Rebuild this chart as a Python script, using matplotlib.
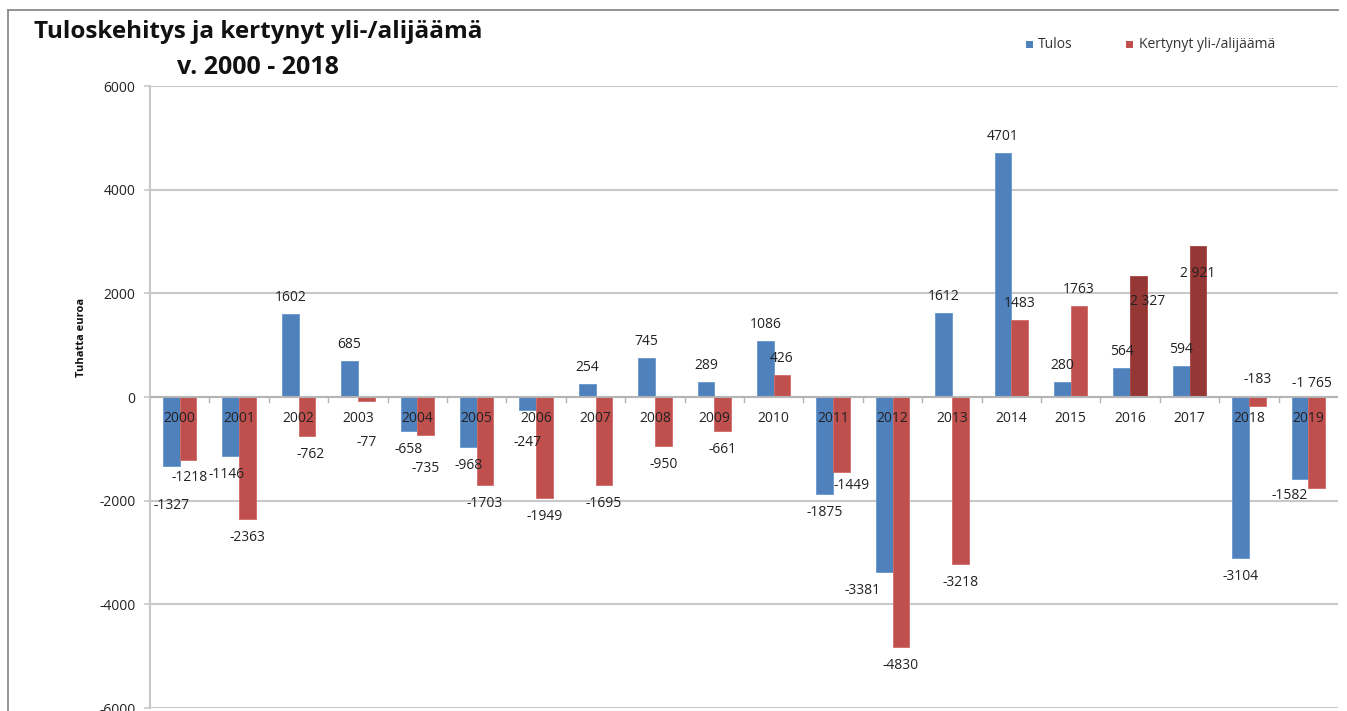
import matplotlib
matplotlib.use("Agg")
import matplotlib.pyplot as plt
from matplotlib.patches import Rectangle
from matplotlib.lines import Line2D

# ---------------- data ----------------
years = ["2000", "2001", "2002", "2003", "2004", "2005", "2006", "2007", "2008", "2009",
         "2010", "2011", "2012", "2013", "2014", "2015", "2016", "2017", "2018", "2019"]
tulos = [-1327, -1146, 1602, 685, -658, -968, -247, 254, 745, 289,
         1086, -1875, -3381, 1612, 4701, 280, 564, 594, -3104, -1582]
kertynyt = [-1218, -2363, -762, -77, -735, -1703, -1949, -1695, -950, -661,
            426, -1449, -4830, -3218, 1483, 1763, 2327, 2921, -183, -1765]
tulos_labels = [str(v) for v in tulos]
kertynyt_labels = [str(v) for v in kertynyt]
kertynyt_labels[16] = "2 327"
kertynyt_labels[17] = "2 921"
kertynyt_labels[19] = "-1 765"
yticks = [-6000, -4000, -2000, 0, 2000, 4000, 6000]
title_lines = ["Tuloskehitys ja kertynyt yli-/alijäämä", "v. 2000 - 2018"]
legend_names = ["Tulos", "Kertynyt yli-/alijäämä"]
ylabel = "Tuhatta euroa"

# ---------------- styling ----------------
BLUE = "#4F81BD"
RED = "#C0504D"
DARKRED = "#953735"
GRID = "#C8C8C8"
FONT = "Open Sans"
plt.rcParams["font.family"] = [FONT, "DejaVu Sans"]

W, H = 1347, 711
fig = plt.figure(figsize=(W / 100, H / 100), dpi=100)

def fx(px):
    return px / W

def fy(py):
    return 1 - py / H

ax_left, ax_right, ax_top, ax_bottom = 150, 1338, 86, 708
ax = fig.add_axes([fx(ax_left), fy(ax_bottom), fx(ax_right - ax_left), (ax_bottom - ax_top) / H])

n = len(years)
bw = 0.28
xs = list(range(n))
red_colors = [DARKRED if i in (16, 17) else RED for i in range(n)]
ax.bar([x + 0.5 - bw / 2 for x in xs], tulos, width=bw, color=BLUE, edgecolor="#6A96CC",
       linewidth=0.6, zorder=3)
ax.bar([x + 0.5 + bw / 2 for x in xs], kertynyt, width=bw, color=red_colors,
       edgecolor=["#A84442" if c == DARKRED else "#D06A67" for c in red_colors],
       linewidth=0.6, zorder=3)

ax.set_xlim(0, n)
ax.set_ylim(-6000, 6000)
ax.set_yticks(yticks)
ax.set_yticklabels([str(t) for t in yticks], fontsize=10, color="#222222")
ax.tick_params(axis="y", length=4, width=1.2, color=GRID, pad=6.5)
ax.set_xticks([])
for t in yticks:
    if t != 0:
        ax.axhline(t, color=GRID, linewidth=1.5, zorder=1)
ax.axhline(0, color="#B4B4B4", linewidth=1.5, zorder=4)
for x in range(1, n):
    ax.plot([x, x], [0, -90], color="#B4B4B4", linewidth=1.0, zorder=4, clip_on=False)
for s in ["top", "right", "bottom"]:
    ax.spines[s].set_visible(False)
ax.spines["left"].set_color(GRID)
ax.spines["left"].set_linewidth(1.5)

# category labels just below the zero line
for i, yr in enumerate(years):
    ax.annotate(yr, xy=(i + 0.5, 0), xytext=(0, -21 * 0.72), textcoords="offset points",
                ha="center", va="center", fontsize=10, color="#222222", zorder=6)

# value labels: offsets in pixels (dy positive = up) relative to bar end
std_pos, std_neg = 16.5, -18.5
blue_dy = {0: -39.5, 6: -33, 19: -16}
blue_dx = {1: -0.07, 12: -0.37, 19: -0.17}
red_dy = {0: -17, 3: -41.7, 4: -33, 11: -13.6, 16: -25, 17: -28, 18: 26.5, 19: 104.5}
red_dx = {0: 0.03, 2: 0.06, 11: 0.17, 16: 0.15, 19: -0.08}

for i in range(n):
    for vals, labs, dys, dxs, sgn in ((tulos, tulos_labels, blue_dy, blue_dx, -1),
                                      (kertynyt, kertynyt_labels, red_dy, red_dx, 1)):
        v = vals[i]
        dy = dys.get(i, std_pos if v >= 0 else std_neg)
        xc = i + 0.5 + sgn * bw / 2 + dxs.get(i, 0)
        ax.annotate(labs[i], xy=(xc, v), xytext=(0, dy * 0.72), textcoords="offset points",
                    ha="center", va="center", fontsize=10, color="#222222", zorder=7)

# y label
fig.text(fx(82), fy(337), ylabel, rotation=90, ha="center", va="center",
         fontsize=8, fontweight="bold", color="#111111")

# title
fig.text(fx(258), fy(32), title_lines[0], ha="center", va="center",
         fontsize=17.5, fontweight="bold", color="#111111")
fig.text(fx(258), fy(67), title_lines[1], ha="center", va="center",
         fontsize=18, fontweight="bold", color="#111111")

# legend
for (cx, tx), name, col in zip(((1029, 1038), (1129, 1139)), legend_names, (BLUE, RED)):
    fig.patches.append(Rectangle((fx(cx - 3.5), fy(44 + 3.5)), fx(7), 7 / H,
                                 transform=fig.transFigure, facecolor=col, edgecolor="none"))
    fig.text(fx(tx), fy(44), name, ha="left", va="center", fontsize=10, color="#333333")

# outer frame (top and left)
fig.add_artist(Line2D([fx(8), fx(1338)], [fy(10), fy(10)], color="#8A8A8A", linewidth=1.3,
                      transform=fig.transFigure))
fig.add_artist(Line2D([fx(8), fx(8)], [fy(10), 0], color="#8A8A8A", linewidth=1.3,
                      transform=fig.transFigure))

fig.savefig("out.png", dpi=100)
